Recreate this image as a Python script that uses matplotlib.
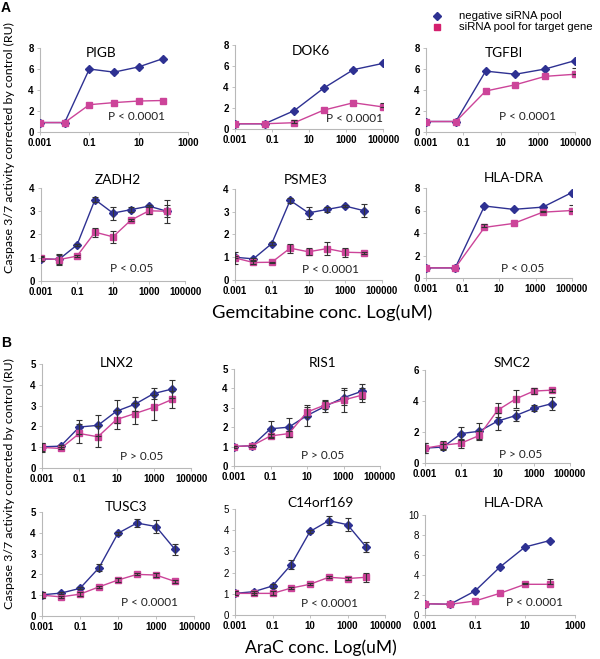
import matplotlib
matplotlib.use("Agg")
import matplotlib.pyplot as plt
import numpy as np

# ---------------- data ----------------
conc6 = [0.001, 0.01, 0.1, 1, 10, 100]
conc6w = [0.001, 0.04, 1.6, 63, 2500, 100000]
conc8 = [0.001, 0.01, 0.1, 1, 10, 100, 1000, 10000]

xticks_wide = [0.001, 0.1, 10, 1000, 100000]
xticklabels_wide = ["0.001", "0.1", "10", "1000", "100000"]
xticks_short = [0.001, 0.1, 10, 1000]
xticklabels_short = ["0.001", "0.1", "10", "1000"]

# Panel A (Gemcitabine)
pigb_neg = [0.9, 0.9, 6.0, 5.7, 6.2, 7.0]
pigb_tgt = [0.9, 0.9, 2.6, 2.8, 2.95, 3.0]
pigb_neg_err = [0, 0, 0, 0, 0, 0]
pigb_tgt_err = [0, 0, 0, 0, 0, 0]

dok6_neg = [0.5, 0.5, 1.75, 3.9, 5.65, 6.25]
dok6_tgt = [0.5, 0.5, 0.6, 1.8, 2.5, 2.1]
dok6_neg_err = [0, 0, 0, 0, 0, 0]
dok6_tgt_err = [0, 0, 0.25, 0, 0, 0.4]

tgfbi_neg = [1.0, 1.0, 5.8, 5.5, 6.0, 6.8]
tgfbi_tgt = [1.0, 1.0, 3.9, 4.5, 5.3, 5.5]
tgfbi_neg_err = [0, 0, 0, 0, 0, 0]
tgfbi_tgt_err = [0, 0, 0, 0, 0, 0.55]

zadh2_neg = [0.95, 0.93, 1.55, 3.5, 2.92, 3.07, 3.22, 3.0]
zadh2_tgt = [0.97, 0.92, 1.07, 2.1, 1.9, 2.62, 3.02, 3.0]
zadh2_neg_err = [0.1, 0.25, 0.05, 0.12, 0.28, 0.12, 0.05, 0.25]
zadh2_tgt_err = [0.1, 0.2, 0.05, 0.2, 0.25, 0.05, 0.15, 0.5]

psme3_neg = [1.0, 0.93, 1.6, 3.5, 2.95, 3.1, 3.25, 3.05]
psme3_tgt = [0.97, 0.77, 0.78, 1.4, 1.24, 1.38, 1.22, 1.2]
psme3_neg_err = [0.05, 0.05, 0.05, 0.12, 0.27, 0.1, 0.05, 0.27]
psme3_tgt_err = [0.28, 0.05, 0.03, 0.2, 0.15, 0.3, 0.2, 0.05]

hla_a_neg = [0.9, 0.9, 6.4, 6.1, 6.3, 7.6]
hla_a_tgt = [0.9, 0.9, 4.5, 4.85, 5.85, 6.0]
hla_a_neg_err = [0, 0, 0, 0, 0, 0]
hla_a_tgt_err = [0, 0, 0.3, 0, 0.1, 0.5]

# Panel B (AraC)
lnx2_neg = [1.02, 1.05, 1.97, 2.05, 2.73, 3.07, 3.58, 3.8]
lnx2_tgt = [0.99, 0.94, 1.66, 1.5, 2.33, 2.62, 2.92, 3.3]
lnx2_neg_err = [0.2, 0.05, 0.35, 0.5, 0.55, 0.35, 0.25, 0.45]
lnx2_tgt_err = [0.2, 0.05, 0.45, 0.5, 0.45, 0.5, 0.6, 0.4]

ris1_neg = [1.0, 1.05, 1.92, 2.0, 2.6, 3.08, 3.52, 3.85]
ris1_tgt = [1.0, 1.05, 1.55, 1.67, 2.78, 3.15, 3.4, 3.65]
ris1_neg_err = [0.05, 0.05, 0.4, 0.5, 0.55, 0.3, 0.4, 0.4]
ris1_tgt_err = [0.05, 0.05, 0.1, 0.15, 0.25, 0.2, 0.6, 0.35]

smc2_neg = [0.96, 1.03, 1.9, 2.05, 2.7, 3.06, 3.53, 3.83]
smc2_tgt = [0.96, 1.15, 1.28, 1.78, 3.4, 4.13, 4.64, 4.7]
smc2_neg_err = [0.3, 0.2, 0.4, 0.5, 0.55, 0.35, 0.2, 0.4]
smc2_tgt_err = [0.3, 0.25, 0.3, 0.3, 0.45, 0.55, 0.2, 0.1]

tusc3_neg = [1.02, 1.1, 1.33, 2.32, 3.98, 4.47, 4.3, 3.2]
tusc3_tgt = [1.0, 0.92, 1.05, 1.4, 1.73, 2.0, 1.97, 1.66]
tusc3_neg_err = [0.15, 0.05, 0.05, 0.18, 0.07, 0.2, 0.3, 0.25]
tusc3_tgt_err = [0.15, 0.05, 0.1, 0.05, 0.08, 0.05, 0.1, 0.05]

c14_neg = [1.02, 1.1, 1.37, 2.38, 3.94, 4.45, 4.26, 3.2]
c14_tgt = [1.02, 1.02, 1.02, 1.27, 1.45, 1.78, 1.72, 1.78]
c14_neg_err = [0.1, 0.05, 0.1, 0.2, 0.07, 0.2, 0.3, 0.25]
c14_tgt_err = [0.1, 0.1, 0.1, 0.05, 0.05, 0.05, 0.05, 0.2]

hla_b_neg = [1.13, 1.07, 2.4, 4.8, 6.8, 7.45]
hla_b_tgt = [1.13, 1.07, 1.4, 2.17, 3.07, 3.07]
hla_b_neg_err = [0, 0, 0, 0, 0, 0]
hla_b_tgt_err = [0, 0, 0, 0, 0.1, 0.5]

BLUE = "#2e3192"
PINK = "#cc4499"
SPINE = "#b8b8b8"

W, H = 600, 659
fig = plt.figure(figsize=(W / 100, H / 100), dpi=100)

TITLE_FONT = "Lato"
TICK_FONT = "Liberation Sans"


def box(x0, y0, x1, y1):
    return [x0 / W, 1 - y1 / H, (x1 - x0) / W, (y1 - y0) / H]


panels = [
    # name, rect(px), x, neg, tgt, negerr, tgterr, onesided, ylim, yticks, xlim, ticks, labels, ptext, ppos, tpos, ybold
    ("PIGB", (40, 48, 188, 132), conc6, pigb_neg, pigb_tgt, pigb_neg_err, pigb_tgt_err, True,
     8, [0, 2, 4, 6, 8], 1000, xticks_short, xticklabels_short, "P < 0.0001", (0.655, 0.19), (0.41, 0.94), True),
    ("DOK6", (235, 45, 383, 129), conc6w, dok6_neg, dok6_tgt, dok6_neg_err, dok6_tgt_err, True,
     8, [0, 2, 4, 6, 8], 100000, xticks_wide, xticklabels_wide, "P < 0.0001", (0.81, 0.12), (0.51, 0.93), True),
    ("TGFBI", (426, 48, 575, 132), conc6w, tgfbi_neg, tgfbi_tgt, tgfbi_neg_err, tgfbi_tgt_err, True,
     8, [0, 2, 4, 6, 8], 100000, xticks_wide, xticklabels_wide, "P < 0.0001", (0.68, 0.19), (0.52, 0.94), True),
    ("ZADH2", (41, 188, 185, 281), conc8, zadh2_neg, zadh2_tgt, zadh2_neg_err, zadh2_tgt_err, False,
     4, [0, 1, 2, 3, 4], 100000, xticks_wide, xticklabels_wide, "P < 0.05", (0.63, 0.13), (0.53, 1.09), True),
    ("PSME3", (235, 189, 382, 280), conc8, psme3_neg, psme3_tgt, psme3_neg_err, psme3_tgt_err, False,
     4, [0, 1, 2, 3, 4], 100000, xticks_wide, xticklabels_wide, "P < 0.0001", (0.65, 0.12), (0.48, 1.10), True),
    ("HLA-DRA", (426, 188, 572, 278), conc6w, hla_a_neg, hla_a_tgt, hla_a_neg_err, hla_a_tgt_err, True,
     8, [0, 2, 4, 6, 8], 100000, xticks_wide, xticklabels_wide, "P < 0.05", (0.66, 0.10), (0.60, 1.11), True),
    ("LNX2", (42, 364, 191, 468), conc8, lnx2_neg, lnx2_tgt, lnx2_neg_err, lnx2_tgt_err, False,
     5, [0, 1, 2, 3, 4, 5], 100000, xticks_wide, xticklabels_wide, "P > 0.05", (0.67, 0.115), (0.50, 1.01), True),
    ("RIS1", (234, 369, 380, 466), conc8, ris1_neg, ris1_tgt, ris1_neg_err, ris1_tgt_err, False,
     5, [0, 1, 2, 3, 4, 5], 100000, xticks_wide, xticklabels_wide, "P > 0.05", (0.61, 0.11), (0.61, 1.06), True),
    ("SMC2", (425, 370, 570, 463), conc8, smc2_neg, smc2_tgt, smc2_neg_err, smc2_tgt_err, False,
     6, [0, 2, 4, 6], 100000, xticks_wide, xticklabels_wide, "P > 0.05", (0.66, 0.09), (0.60, 1.075), True),
    ("TUSC3", (42, 512, 194, 616), conc8, tusc3_neg, tusc3_tgt, tusc3_neg_err, tusc3_tgt_err, False,
     5, [0, 1, 2, 3, 4, 5], 100000, xticks_wide, xticklabels_wide, "P < 0.0001", (0.71, 0.125), (0.55, 1.05), True),
    ("C14orf169", (235, 509, 385, 615), conc8, c14_neg, c14_tgt, c14_neg_err, c14_tgt_err, False,
     5, [0, 1, 2, 3, 4, 5], 100000, xticks_wide, xticklabels_wide, "P < 0.0001", (0.63, 0.11), (0.57, 1.06), False),
    ("HLA-DRA", (425, 515, 575, 615), conc6, hla_b_neg, hla_b_tgt, hla_b_neg_err, hla_b_tgt_err, True,
     10, [0, 2, 4, 6, 8, 10], 1000, xticks_short, xticklabels_short, "P < 0.0001", (0.73, 0.12), (0.59, 1.12), False),
]

for (name, rect, x, neg, tgt, nerr, terr, onesided, ymax, yt, xmax, xt, xtl, ptxt, ppos, tpos, ybold) in panels:
    ax = fig.add_axes(box(*rect))
    ax.set_xscale("log")
    ax.set_xlim(0.001, xmax)
    ax.set_ylim(0, ymax)
    for vals, err, col, mk, ms in ((neg, nerr, BLUE, "D", 4.2), (tgt, terr, PINK, "s", 4.6)):
        e = np.array(err, dtype=float)
        mask = e > 0
        ax.plot(x, vals, color=col, marker=mk, ms=ms, lw=1.0, zorder=3)
        if mask.any():
            xa = np.array(x)[mask]
            va = np.array(vals)[mask]
            ye = [np.zeros(mask.sum()), e[mask]] if onesided else e[mask]
            ax.errorbar(xa, va, yerr=ye, fmt="none", ecolor="#333333", elinewidth=0.8,
                        capsize=2.5, capthick=0.8, zorder=4)
    ax.set_xticks(xt)
    ax.set_xticklabels(xtl)
    ax.minorticks_off()
    ax.set_yticks(yt)
    ax.set_yticklabels([str(v) for v in yt])
    for s in ("top", "right"):
        ax.spines[s].set_visible(False)
    for s in ("left", "bottom"):
        ax.spines[s].set_color(SPINE)
        ax.spines[s].set_linewidth(0.8)
    ax.tick_params(axis="both", length=2.5, width=0.6, color=SPINE, pad=2)
    for lab in ax.get_xticklabels():
        lab.set_fontfamily(TICK_FONT)
        lab.set_fontweight("bold")
        lab.set_fontsize(7)
    for lab in ax.get_yticklabels():
        lab.set_fontfamily(TICK_FONT)
        lab.set_fontweight("bold" if ybold else "normal")
        lab.set_fontsize(7)
    ax.patch.set_alpha(0)
    ax.text(tpos[0], tpos[1], name, transform=ax.transAxes, ha="center", va="center",
            fontsize=9.8, family=TITLE_FONT)
    ax.text(ppos[0], ppos[1], ptxt, transform=ax.transAxes, ha="center", va="center",
            fontsize=8.5, family=TITLE_FONT, color="#222222")

# axis titles
fig.text(322 / W, 1 - 313 / H, "Gemcitabine conc. Log(uM)", ha="center", va="center",
         fontsize=13.2, family=TITLE_FONT)
fig.text(321 / W, 1 - 648 / H, "AraC conc. Log(uM)", ha="center", va="center",
         fontsize=12.6, family=TITLE_FONT)
for yc in (148, 484):
    fig.text(9 / W, 1 - yc / H, "Caspase 3/7 activity corrected by control (RU)", rotation=90,
             ha="center", va="center", fontsize=8.9, family=TITLE_FONT)

fig.text(1 / W, 1 - 8 / H, "A", fontsize=10, fontweight="bold", family=TICK_FONT, va="center")
fig.text(1 / W, 1 - 343 / H, "B", fontsize=10, fontweight="bold", family=TICK_FONT, va="center")

# legend
fig.lines.append(plt.Line2D([437 / W], [1 - 16 / H], marker="D", ms=4, color=BLUE, lw=0,
                            transform=fig.transFigure))
fig.lines.append(plt.Line2D([437 / W], [1 - 27 / H], marker="s", ms=4.5, color="#d4206e", lw=0,
                            transform=fig.transFigure))
fig.text(459 / W, 1 - 16 / H, "negative siRNA pool", fontsize=8.2, family=TICK_FONT, va="center")
fig.text(459 / W, 1 - 27 / H, "siRNA pool for target gene", fontsize=8.2, family=TICK_FONT, va="center")

fig.savefig("out.png", dpi=100)
